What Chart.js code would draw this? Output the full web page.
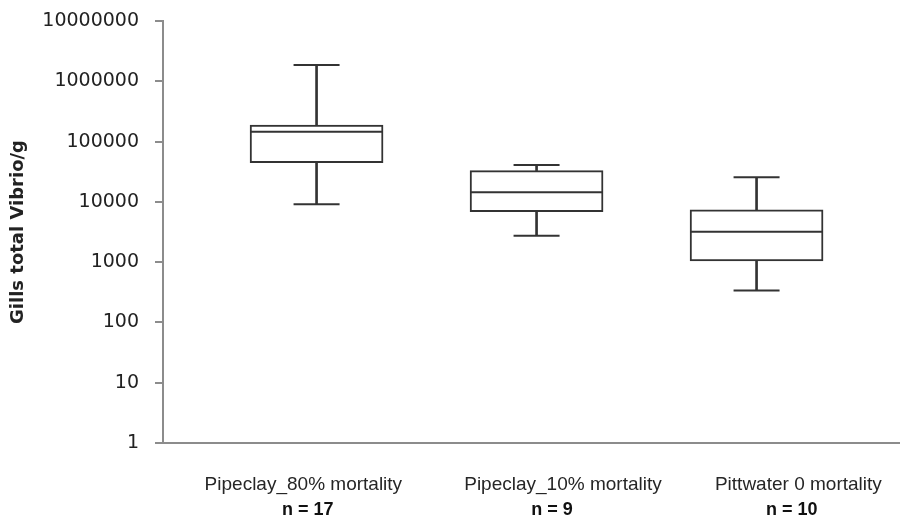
<!DOCTYPE html>
<html lang="en">
<head>
    <meta charset="UTF-8">
    <title>Gills total Vibrio/g</title>
    <script src="https://cdn.jsdelivr.net/npm/chart.js"></script>
    <style>
        html, body {
            margin: 0;
            padding: 0;
            background: #ffffff;
        }

        .chart-wrap {
            position: relative;
            width: 900px;
            height: 515px;
        }
    </style>
</head>
<body>
    <div class="chart-wrap">
        <canvas id="boxChart"></canvas>
    </div>

    <script>
        // values (log scale)
        const categories = ['Pipeclay_80% mortality', 'Pipeclay_10% mortality', 'Pittwater 0 mortality'];
        const sampleSizes = ['n = 17', 'n = 9', 'n = 10'];
        const whiskerMax = [1860000, 40900, 25500];
        const upperQuartile = [188000, 33000, 7400];
        const medians = [146000, 14400, 3200];
        const lowerQuartile = [44700, 6900, 1050];
        const whiskerMin = [9100, 2750, 340];
        const yTicks = [1, 10, 100, 1000, 10000, 100000, 1000000, 10000000];

        const ink = '#333333';
        const axisGrey = '#8c8c8c';

        const pos = categories.map((c, i) => i + 1);
        const pairs = (lo, hi) => pos.map((x, i) => ({ x: x, y: [lo[i], hi[i]] }));
        const points = (vals) => pos.map((x, i) => ({ x: x, y: vals[i] }));

        // the labels in the original sit a little off the box centres
        const nameNudge = [-0.06, 0.12, 0.19];
        const countNudge = [-0.04, 0.07, 0.16];

        // chart.js pads the area for edge labels, we want the plot box fixed
        const noPad = (scale) => {
            scale.paddingTop = 0;
            scale.paddingBottom = 0;
            scale.paddingLeft = 0;
            scale.paddingRight = 0;
        };

        const whiskerBar = {
            type: 'bar',
            backgroundColor: ink,
            borderWidth: 0,
            barThickness: 2,
            grouped: false
        };
        const capLine = {
            type: 'scatter',
            pointStyle: 'line',
            borderColor: ink,
            borderWidth: 2,
            pointRadius: 23,
            pointHoverRadius: 23
        };

        const xRange = { min: 0.302, max: 3.652 };
        const labelFont = "'Liberation Sans', Arial, sans-serif";

        new Chart(document.getElementById('boxChart'), {
            type: 'bar',
            data: {
                datasets: [
                    // first in list = drawn last (on top)
                    Object.assign({ data: points(medians) }, capLine, { pointRadius: 66, pointHoverRadius: 66 }),
                    Object.assign({ data: points(whiskerMax) }, capLine),
                    Object.assign({ data: points(whiskerMin) }, capLine),
                    {
                        type: 'bar',
                        data: pairs(lowerQuartile, upperQuartile),
                        backgroundColor: '#ffffff',
                        borderColor: ink,
                        borderWidth: 2,
                        borderSkipped: false,
                        barThickness: 133,
                        grouped: false
                    },
                    Object.assign({ data: pairs(upperQuartile, whiskerMax) }, whiskerBar),
                    Object.assign({ data: pairs(whiskerMin, lowerQuartile) }, whiskerBar)
                ]
            },
            options: {
                responsive: true,
                maintainAspectRatio: false,
                animation: false,
                layout: {
                    autoPadding: false,
                    padding: { top: 21, left: 0, right: 0, bottom: 0 }
                },
                plugins: {
                    legend: { display: false },
                    tooltip: { enabled: false }
                },
                scales: {
                    x: {
                        type: 'linear',
                        position: 'bottom',
                        weight: 0,
                        offset: false,
                        min: xRange.min,
                        max: xRange.max,
                        grid: { display: false, drawTicks: false, offset: false },
                        border: { display: true, color: axisGrey, width: 2 },
                        afterBuildTicks: (scale) => { scale.ticks = pos.map((v, i) => ({ value: v + nameNudge[i] })); },
                        afterFit: (scale) => { scale.height = 53; noPad(scale); },
                        ticks: {
                            padding: 30,
                            color: '#262626',
                            maxRotation: 0,
                            autoSkip: false,
                            font: { family: labelFont, size: 19 },
                            callback: (v, i) => categories[i]
                        }
                    },
                    x2: {
                        type: 'linear',
                        position: 'bottom',
                        weight: 1,
                        offset: false,
                        min: xRange.min,
                        max: xRange.max,
                        grid: { display: false, drawTicks: false, offset: false },
                        border: { display: false },
                        afterBuildTicks: (scale) => { scale.ticks = pos.map((v, i) => ({ value: v + countNudge[i] })); },
                        afterFit: (scale) => { scale.height = 19; noPad(scale); },
                        ticks: {
                            padding: 3,
                            color: '#111111',
                            maxRotation: 0,
                            autoSkip: false,
                            font: { family: labelFont, size: 18, weight: 'bold' },
                            callback: (v, i) => sampleSizes[i]
                        }
                    },
                    y: {
                        type: 'logarithmic',
                        min: 1,
                        max: 10000000,
                        afterBuildTicks: (scale) => { scale.ticks = yTicks.map(v => ({ value: v })); },
                        afterFit: (scale) => { scale.width = 163; noPad(scale); },
                        grid: {
                            drawOnChartArea: false,
                            drawTicks: true,
                            tickLength: 8,
                            color: axisGrey,
                            lineWidth: 2
                        },
                        border: { display: true, color: axisGrey, width: 2 },
                        ticks: {
                            padding: 16,
                            color: '#222222',
                            font: { family: "'DejaVu Sans', sans-serif", size: 19 },
                            callback: (v) => String(v)
                        },
                        title: {
                            display: true,
                            text: 'Gills total Vibrio/g',
                            color: '#222222',
                            padding: { top: 8, bottom: 0 },
                            font: { family: "'DejaVu Sans', sans-serif", size: 18, weight: 'bold' }
                        }
                    }
                }
            }
        });
    </script>
</body>
</html>
